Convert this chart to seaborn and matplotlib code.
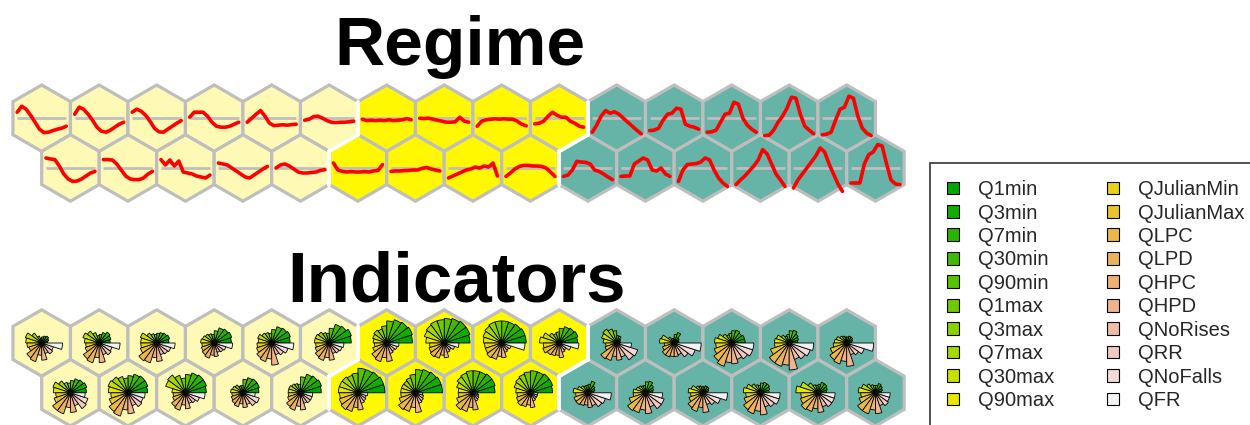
import colorsys

import matplotlib
matplotlib.use("Agg")
import matplotlib.pyplot as plt
import numpy as np
import pandas as pd
import seaborn as sns
from matplotlib.patches import Patch, RegularPolygon, Wedge

# ---------------------------------------------------------------- data
indicator_names = [
    "Q1min", "Q3min", "Q7min", "Q30min", "Q90min",
    "Q1max", "Q3max", "Q7max", "Q30max", "Q90max",
    "QJulianMin", "QJulianMax", "QLPC", "QLPD", "QHPC",
    "QHPD", "QNoRises", "QRR", "QNoFalls", "QFR",
]

# cluster of each SOM unit (0 = pale, 1 = yellow, 2 = teal), two map rows
cluster_row1 = [0, 0, 0, 0, 0, 0, 1, 1, 1, 1, 2, 2, 2, 2, 2]
cluster_row2 = [0, 0, 0, 0, 0, 1, 1, 1, 1, 2, 2, 2, 2, 2, 2]

# standardized monthly flow regime of each unit (codebook vectors)
regime_row1 = [
    [0.3, 0.6, 0.45, 0.15, -0.2, -0.55, -0.72, -0.7, -0.62, -0.55, -0.5, -0.4],
    [0.2, 0.55, 0.45, 0.2, -0.1, -0.45, -0.65, -0.7, -0.6, -0.45, -0.3, -0.2],
    [0.3, 0.45, 0.35, 0.15, -0.15, -0.5, -0.68, -0.7, -0.55, -0.4, -0.25, -0.12],
    [0.05, 0.3, 0.3, 0.3, 0.1, -0.2, -0.4, -0.45, -0.45, -0.4, -0.3, -0.2],
    [-0.2, 0.0, 0.2, 0.38, 0.1, -0.25, -0.37, -0.35, -0.33, -0.35, -0.32, -0.3],
    [-0.1, -0.05, 0.08, 0.1, 0.0, -0.12, -0.2, -0.22, -0.2, -0.2, -0.18, -0.15],
    [-0.05, -0.12, -0.1, -0.12, -0.1, -0.12, -0.08, -0.12, -0.1, -0.08, -0.02, -0.08],
    [0.0, -0.02, 0.0, -0.05, -0.1, -0.15, -0.2, -0.2, -0.18, 0.05, -0.15, -0.2],
    [-0.4, -0.15, -0.08, -0.05, -0.03, -0.05, -0.03, -0.05, -0.05, -0.15, -0.3, -0.38],
    [-0.28, -0.25, -0.15, 0.1, 0.3, 0.15, 0.05, 0.05, -0.15, -0.25, -0.4, -0.45],
    [-0.7, -0.35, 0.1, 0.38, 0.25, 0.32, 0.2, 0.0, -0.2, -0.4, -0.6, -0.78],
    [-0.62, -0.6, -0.5, -0.1, 0.2, 0.25, 0.5, 0.45, -0.3, -0.4, -0.45, -0.55],
    [-0.7, -0.68, -0.6, -0.2, 0.2, 0.25, 0.8, 0.7, 0.0, -0.35, -0.55, -0.7],
    [-0.87, -0.85, -0.6, -0.2, 0.1, 0.5, 1.05, 1.0, 0.2, -0.4, -0.6, -0.78],
    [-0.83, -0.8, -0.7, -0.1, 0.45, 0.55, 1.1, 1.0, 0.1, -0.5, -0.75, -0.87],
]
regime_row2 = [
    [0.5, 0.45, 0.42, 0.1, -0.3, -0.55, -0.67, -0.65, -0.55, -0.4, -0.25, -0.17],
    [0.42, 0.42, 0.4, 0.2, -0.1, -0.4, -0.55, -0.58, -0.58, -0.5, -0.3, -0.17],
    [0.42, 0.15, 0.4, 0.1, 0.35, -0.2, -0.25, -0.3, -0.4, -0.45, -0.5, -0.35],
    [0.25, 0.2, 0.15, 0.0, -0.15, -0.3, -0.45, -0.5, -0.35, -0.2, -0.05, 0.08],
    [0.0, 0.15, 0.2, 0.1, -0.05, -0.2, -0.25, -0.25, -0.22, -0.2, -0.12, -0.08],
    [0.25, -0.1, -0.17, -0.2, -0.18, -0.2, -0.2, -0.18, -0.2, -0.15, -0.12, 0.17],
    [-0.17, -0.15, -0.15, -0.13, -0.12, -0.1, -0.1, -0.02, 0.03, -0.05, -0.1, -0.15],
    [-0.5, -0.4, -0.3, -0.2, -0.1, -0.05, 0.05, 0.0, 0.1, 0.05, 0.25, -0.4],
    [-0.42, -0.25, -0.05, 0.08, 0.13, 0.13, 0.1, 0.1, 0.08, 0.0, -0.2, -0.42],
    [-0.42, -0.35, -0.1, 0.33, 0.3, 0.28, 0.2, -0.1, -0.17, -0.3, -0.45, -0.58],
    [-0.42, -0.4, -0.4, 0.2, 0.35, 0.5, 0.4, -0.1, -0.15, 0.0, -0.3, -0.42],
    [-0.67, -0.1, 0.17, 0.2, 0.22, 0.3, 0.5, 0.4, -0.1, -0.5, -0.75, -0.92],
    [-0.83, -0.6, -0.4, -0.15, 0.1, 0.4, 0.92, 0.7, 0.2, -0.3, -0.6, -0.92],
    [-1.0, -0.6, -0.3, 0.0, 0.3, 0.6, 1.0, 0.8, 0.2, -0.3, -0.8, -1.17],
    [-0.75, -0.75, -0.75, 0.2, 0.67, 0.8, 1.17, 1.1, 0.2, -0.6, -0.8, -0.83],
]

# scaled hydrological indicator values of each unit (segment radii)
indicator_row1 = [
    [0.25, 0.3, 0.35, 0.3, 0.25, 0.2, 0.3, 0.5, 0.7, 0.65, 0.6, 0.55, 0.75, 0.8, 0.5, 0.7, 0.45, 0.55, 0.5, 0.85],
    [0.45, 0.5, 0.55, 0.45, 0.35, 0.3, 0.45, 0.6, 0.7, 0.6, 0.55, 0.6, 0.8, 0.85, 0.6, 0.8, 0.5, 0.6, 0.55, 0.85],
    [0.5, 0.55, 0.5, 0.45, 0.4, 0.35, 0.4, 0.5, 0.7, 0.65, 0.65, 0.7, 0.9, 0.85, 0.6, 0.75, 0.5, 0.55, 0.6, 0.75],
    [0.7, 0.75, 0.7, 0.65, 0.5, 0.35, 0.4, 0.45, 0.5, 0.55, 0.5, 0.55, 0.6, 0.65, 0.5, 0.55, 0.4, 0.45, 0.5, 0.75],
    [0.75, 0.8, 0.75, 0.7, 0.55, 0.4, 0.45, 0.5, 0.6, 0.55, 0.6, 0.65, 0.75, 0.8, 0.65, 0.9, 0.5, 0.6, 0.7, 0.9],
    [0.9, 0.95, 0.85, 0.8, 0.6, 0.4, 0.45, 0.55, 0.6, 0.6, 0.55, 0.6, 0.7, 0.75, 0.6, 0.7, 0.45, 0.5, 0.55, 0.6],
    [1.05, 1.1, 1.05, 1.0, 0.9, 0.7, 0.6, 0.65, 0.6, 0.55, 0.5, 0.6, 0.75, 0.8, 0.6, 0.75, 0.45, 0.4, 0.45, 0.5],
    [1.05, 1.1, 1.1, 1.05, 1.0, 0.95, 0.95, 0.9, 0.85, 0.75, 0.6, 0.65, 0.7, 0.65, 0.5, 0.6, 0.4, 0.35, 0.45, 0.6],
    [1.0, 1.0, 0.95, 0.9, 0.9, 0.9, 0.9, 0.85, 0.8, 0.75, 0.7, 0.7, 0.75, 0.7, 0.55, 0.6, 0.4, 0.35, 0.4, 0.95],
    [0.75, 0.8, 0.75, 0.7, 0.6, 0.45, 0.4, 0.5, 0.7, 0.8, 0.65, 0.7, 0.6, 0.55, 0.5, 0.6, 0.4, 0.35, 0.5, 0.8],
    [0.15, 0.15, 0.2, 0.3, 0.3, 0.5, 0.6, 0.7, 0.65, 0.55, 0.45, 0.5, 0.8, 0.75, 0.55, 0.7, 0.6, 0.85, 0.9, 0.6],
    [0.2, 0.2, 0.25, 0.45, 0.35, 0.2, 0.2, 0.3, 0.55, 0.6, 0.4, 0.5, 0.6, 0.6, 0.55, 0.55, 0.5, 0.7, 0.9, 1.1],
    [0.55, 0.55, 0.5, 0.55, 0.5, 0.4, 0.35, 0.45, 0.6, 0.7, 0.65, 0.75, 0.9, 1.0, 0.8, 0.85, 0.7, 0.8, 0.9, 0.9],
    [0.35, 0.4, 0.45, 0.55, 0.5, 0.35, 0.3, 0.4, 0.55, 0.6, 0.6, 0.8, 1.0, 1.0, 0.9, 1.1, 0.7, 0.8, 0.9, 1.0],
    [0.2, 0.25, 0.3, 0.3, 0.25, 0.25, 0.3, 0.35, 0.45, 0.5, 0.55, 0.7, 0.85, 0.9, 0.75, 0.95, 0.5, 0.6, 0.75, 1.1],
]
indicator_row2 = [
    [0.65, 0.7, 0.65, 0.6, 0.5, 0.4, 0.45, 0.6, 0.75, 0.7, 0.6, 0.7, 0.9, 0.9, 0.6, 0.8, 0.55, 0.8, 0.75, 0.6],
    [0.8, 0.85, 0.85, 0.8, 0.7, 0.6, 0.7, 0.8, 0.85, 0.8, 0.7, 0.8, 0.95, 1.0, 0.7, 0.85, 0.55, 0.7, 0.65, 0.7],
    [0.85, 0.9, 0.9, 0.85, 0.75, 0.6, 0.75, 0.9, 0.85, 0.55, 0.5, 0.55, 0.7, 0.75, 0.5, 0.65, 0.45, 0.5, 0.6, 0.8],
    [0.65, 0.7, 0.7, 0.65, 0.55, 0.3, 0.3, 0.4, 0.45, 0.5, 0.45, 0.5, 0.55, 0.6, 0.45, 0.6, 0.5, 0.65, 0.7, 0.5],
    [0.85, 0.9, 0.85, 0.8, 0.65, 0.35, 0.4, 0.45, 0.5, 0.5, 0.5, 0.55, 0.7, 0.75, 0.55, 0.7, 0.45, 0.5, 0.5, 0.5],
    [1.1, 1.1, 1.05, 1.0, 1.0, 0.8, 0.75, 0.8, 0.8, 0.8, 0.75, 0.8, 0.85, 0.8, 0.6, 0.7, 0.45, 0.4, 0.35, 0.4],
    [1.1, 1.1, 1.05, 1.0, 0.95, 0.75, 0.65, 0.6, 0.6, 0.6, 0.6, 0.7, 0.85, 0.8, 0.6, 0.8, 0.45, 0.4, 0.35, 0.3],
    [0.9, 0.95, 0.95, 0.9, 0.9, 0.9, 0.85, 0.8, 0.7, 0.6, 0.6, 0.7, 0.85, 0.8, 0.6, 0.7, 0.35, 0.3, 0.25, 0.2],
    [0.9, 0.95, 0.95, 0.9, 0.9, 0.85, 0.8, 0.75, 0.7, 0.6, 0.55, 0.6, 0.65, 0.6, 0.5, 0.6, 0.35, 0.3, 0.3, 0.3],
    [0.25, 0.3, 0.35, 0.5, 0.35, 0.3, 0.3, 0.35, 0.45, 0.6, 0.5, 0.6, 0.6, 0.55, 0.5, 0.6, 0.55, 0.7, 0.75, 0.95],
    [0.3, 0.35, 0.4, 0.5, 0.45, 0.3, 0.3, 0.35, 0.4, 0.5, 0.5, 0.7, 0.9, 0.85, 0.7, 0.85, 0.6, 0.8, 0.8, 0.7],
    [0.2, 0.25, 0.3, 0.3, 0.25, 0.25, 0.3, 0.35, 0.5, 0.6, 0.5, 0.6, 0.75, 0.8, 0.6, 0.8, 0.5, 0.6, 0.75, 1.0],
    [0.35, 0.4, 0.45, 0.45, 0.4, 0.3, 0.35, 0.45, 0.6, 0.7, 0.6, 0.7, 0.85, 0.9, 0.75, 0.9, 0.6, 0.7, 0.8, 0.8],
    [0.35, 0.4, 0.45, 0.45, 0.35, 0.3, 0.35, 0.5, 0.75, 0.9, 0.7, 0.75, 0.85, 0.8, 0.65, 0.8, 0.6, 0.7, 0.7, 0.7],
    [0.25, 0.3, 0.35, 0.4, 0.3, 0.3, 0.35, 0.45, 0.6, 0.7, 0.6, 0.7, 0.9, 0.9, 0.7, 0.85, 0.55, 0.65, 0.6, 0.6],
]

# ---------------------------------------------------------------- style
cluster_colors = ["#FFF9B6", "#FFF800", "#66B3A7"]
hex_edge = "#BEBEBE"


def terrain_colors(n):
    """Green -> yellow -> tan -> pale grey ramp (R terrain.colors)."""
    k = n // 2
    cols = []
    for h, s, v in zip(np.linspace(4 / 12, 2 / 12, k), np.linspace(1, 1, k),
                       np.linspace(0.65, 0.9, k)):
        cols.append(colorsys.hsv_to_rgb(h, s, v))
    m = n - k + 1
    for h, s, v in zip(np.linspace(2 / 12, 0, m)[1:], np.linspace(1, 0, m)[1:],
                       np.linspace(0.9, 0.95, m)[1:]):
        cols.append(colorsys.hsv_to_rgb(h, s, v))
    return cols


seg_colors = terrain_colors(len(indicator_names))

sns.set_theme(style="white")
plt.rcParams["font.family"] = ["Liberation Sans", "DejaVu Sans"]

fig = plt.figure(figsize=(12.5, 4.25), dpi=100)
ax = fig.add_axes([0, 0, 1, 1])

# hexagonal map geometry (pixel units)
w = 57.5                     # distance between neighbouring unit centres
R = w / np.sqrt(3)           # hexagon circumradius
dy = w * np.sqrt(3) / 2      # row spacing
x0 = 41.7

clusters = [cluster_row1, cluster_row2]


def unit_centres(y_top):
    out = []
    for r in range(2):
        for i in range(len(cluster_row1)):
            out.append((r, i, x0 + i * w + r * w / 2, y_top + r * dy))
    return out


def draw_map(y_top):
    centres = unit_centres(y_top)
    for r, i, cx, cy in centres:
        ax.add_patch(RegularPolygon((cx, cy), 6, radius=R, orientation=0,
                                    facecolor=cluster_colors[clusters[r][i]],
                                    edgecolor=hex_edge, linewidth=2.3, zorder=1))
    # white boundaries between clusters
    lookup = {(r, i): (cx, cy) for r, i, cx, cy in centres}
    n = len(cluster_row1)
    pairs = []
    for r in range(2):
        for i in range(n - 1):
            pairs.append(((r, i), (r, i + 1)))
    for i in range(n):
        pairs.append(((0, i), (1, i)))
        if i > 0:
            pairs.append(((0, i), (1, i - 1)))
    for a, b in pairs:
        if clusters[a[0]][a[1]] == clusters[b[0]][b[1]]:
            continue
        (xa, ya), (xb, yb) = lookup[a], lookup[b]
        mx, my = (xa + xb) / 2, (ya + yb) / 2
        d = np.array([xb - xa, yb - ya]) / w
        p = np.array([-d[1], d[0]]) * R / 2
        ax.plot([mx - p[0], mx + p[0]], [my - p[1], my + p[1]],
                color="white", lw=2.8, solid_capstyle="round", zorder=2)
    return centres


# ---------------------------------------------------------------- Regime map
regime_top = 118.2
centres = draw_map(regime_top)
regimes = [regime_row1, regime_row2]
half_span = 24.5
scale = 20.0
rows = []
for r, i, cx, cy in centres:
    vals = regimes[r][i]
    t = np.linspace(-half_span, half_span, len(vals))
    ax.plot([cx - half_span, cx + half_span], [cy, cy], color=hex_edge,
            lw=2.0, zorder=3, solid_capstyle="butt")
    for k, v in enumerate(vals):
        rows.append({"unit": f"{r}-{i}", "px": cx + t[k], "py": cy - v * scale})
lines = pd.DataFrame(rows)
sns.lineplot(data=lines, x="px", y="py", units="unit", estimator=None,
             sort=False, color="red", lw=2.6, ax=ax, zorder=4, legend=False)

# ---------------------------------------------------------------- Indicators map
ind_top = 343.0
centres = draw_map(ind_top)
indicators = [indicator_row1, indicator_row2]
rscale = 24.5
nseg = len(indicator_names)
step = 360.0 / nseg
for r, i, cx, cy in centres:
    for k, v in enumerate(indicators[r][i]):
        # y axis is inverted: negate angles so segments run counter-clockwise
        ax.add_patch(Wedge((cx, cy), v * rscale, -(k + 1) * step, -k * step,
                           facecolor=seg_colors[k], edgecolor="black",
                           linewidth=0.6, zorder=3))

ax.set_xlim(0, 1250)
ax.set_ylim(425, 0)
ax.axis("off")

# ---------------------------------------------------------------- titles
ax.text(460, 65, "Regime", ha="center", va="baseline", fontsize=50,
        fontweight="bold", color="black")
ax.text(456, 302, "Indicators", ha="center", va="baseline", fontsize=51,
        fontweight="bold", color="black")

# ---------------------------------------------------------------- legend
handles = [Patch(facecolor=c, edgecolor="black", linewidth=0.8) for c in seg_colors]
leg = ax.legend(handles, indicator_names, ncol=2, loc="upper left",
                bbox_to_anchor=(930 / 1250, 1 - 163 / 425),
                bbox_transform=fig.transFigure, frameon=True, fancybox=False,
                framealpha=1, edgecolor="#333333", fontsize=14.5,
                handlelength=0.6, handleheight=0.6, handletextpad=0.95,
                columnspacing=2.6, borderpad=0.85, labelspacing=0.22,
                borderaxespad=0)
leg.get_frame().set_linewidth(1.2)

fig.savefig("out.png", dpi=100)
